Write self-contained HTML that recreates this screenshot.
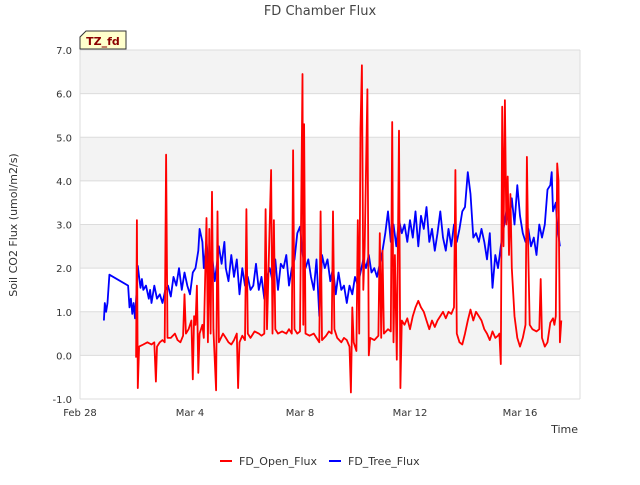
<!DOCTYPE html>
<html><head><meta charset="utf-8"><style>
body{margin:0;background:#fff;font-family:"Liberation Sans","DejaVu Sans",sans-serif}
svg text{font-family:"DejaVu Sans","Liberation Sans",sans-serif}
</style></head><body>
<svg width="640" height="480" viewBox="0 0 640 480" xmlns="http://www.w3.org/2000/svg">
<text x="320" y="15" text-anchor="middle" font-size="13" fill="#444">FD Chamber Flux</text>
<g id="bands"></g>
<g id="grid"></g>
<g id="yticks"></g>
<g id="xticks"></g>
<g id="series"></g>
<text x="17" y="225" text-anchor="middle" font-size="11" fill="#333" transform="rotate(-90 17 225)">Soil CO2 Flux (umol/m2/s)</text>
<text x="578" y="433" text-anchor="end" font-size="11" fill="#333">Time</text>
<g>
<path d="M86,31 L126,31 L126,49 L80,49 L80,37 Z" fill="#ffffcc" stroke="#333" stroke-width="1"/>
<text x="103" y="45" text-anchor="middle" font-size="11" font-weight="bold" fill="#8b0000">TZ_fd</text>
</g>
<g>
<line x1="220" y1="461" x2="232" y2="461" stroke="#ff0000" stroke-width="2"/>
<text x="239" y="465" font-size="11" fill="#333">FD_Open_Flux</text>
</g>
<g>
<line x1="329" y1="461" x2="341" y2="461" stroke="#0000ff" stroke-width="2"/>
<text x="348" y="465" font-size="11" fill="#333">FD_Tree_Flux</text>
</g>
</svg>
<script>
const yTicks=[-1,0,1,2,3,4,5,6,7];
const xTickDays=[0,4,8,12,16];
const xTickLabels=["Feb 28","Mar 4","Mar 8","Mar 12","Mar 16"];
const treeT=[0.87,0.9,0.95,1.0,1.07,1.75,1.8,1.85,1.9,1.95,2.0,2.05,2.1,2.15,2.2,2.25,2.3,2.4,2.5,2.55,2.6,2.7,2.8,2.9,3.0,3.1,3.2,3.3,3.4,3.5,3.6,3.7,3.8,3.9,4.0,4.1,4.2,4.3,4.35,4.45,4.5,4.6,4.7,4.8,4.9,5.0,5.05,5.15,5.25,5.3,5.4,5.5,5.6,5.7,5.8,5.9,6.0,6.1,6.2,6.3,6.4,6.5,6.6,6.7,6.8,6.9,7.0,7.1,7.2,7.3,7.4,7.5,7.6,7.7,7.8,7.9,8.0,8.1,8.2,8.3,8.4,8.5,8.6,8.7,8.8,8.9,9.0,9.1,9.2,9.3,9.4,9.5,9.6,9.7,9.8,9.9,10.0,10.1,10.2,10.3,10.4,10.5,10.6,10.7,10.8,10.9,11.0,11.1,11.2,11.3,11.4,11.5,11.6,11.7,11.8,11.9,12.0,12.1,12.2,12.3,12.4,12.5,12.6,12.7,12.8,12.9,13.0,13.1,13.2,13.3,13.4,13.5,13.6,13.7,13.8,13.9,14.0,14.1,14.2,14.3,14.4,14.5,14.6,14.7,14.8,14.9,15.0,15.1,15.2,15.3,15.4,15.5,15.6,15.7,15.8,15.9,16.0,16.1,16.2,16.3,16.4,16.5,16.6,16.7,16.8,16.9,17.0,17.1,17.15,17.2,17.3,17.35,17.45];
const treeV=[0.8,1.2,1.0,1.2,1.85,1.6,1.1,1.3,0.95,1.2,0.85,1.4,2.05,1.8,1.55,1.75,1.5,1.6,1.3,1.5,1.2,1.6,1.3,1.4,1.2,1.5,1.6,1.35,1.8,1.6,2.0,1.5,1.9,1.6,1.4,1.9,2.0,2.4,2.9,2.6,2.0,2.6,1.9,2.3,1.7,2.2,2.5,2.1,2.6,2.0,1.7,2.3,1.8,2.2,1.4,2.0,1.6,1.8,1.5,1.6,2.1,1.5,1.8,1.3,1.8,2.0,1.7,2.2,1.5,2.1,2.0,2.3,1.6,2.0,2.2,2.8,2.95,2.3,2.0,2.2,1.8,1.5,2.2,0.9,2.3,2.0,2.2,1.7,2.0,1.4,1.9,1.5,1.6,1.2,1.6,1.4,1.8,1.6,1.9,2.2,2.0,2.3,1.9,2.0,1.8,2.1,2.4,2.8,3.3,2.6,3.0,2.5,3.1,2.8,3.0,2.6,3.1,2.7,3.3,2.5,3.2,2.9,3.4,2.6,2.9,2.4,2.8,3.3,2.7,2.4,2.9,2.5,3.0,2.6,2.9,3.3,3.4,4.2,3.7,2.7,2.8,2.6,2.9,2.6,2.2,2.8,1.55,2.3,2.0,2.5,2.9,3.3,3.0,3.6,3.0,3.9,3.2,2.8,2.6,2.9,2.5,2.7,2.3,3.0,2.7,3.0,3.8,3.9,4.2,3.3,3.5,3.0,2.5];
const openT=[2.04,2.07,2.1,2.15,2.3,2.45,2.6,2.7,2.76,2.8,2.9,3.0,3.08,3.13,3.18,3.3,3.45,3.55,3.65,3.75,3.8,3.85,3.95,4.05,4.1,4.15,4.2,4.25,4.3,4.35,4.45,4.5,4.6,4.65,4.7,4.75,4.8,4.85,4.95,5.0,5.05,5.2,5.3,5.4,5.5,5.6,5.7,5.75,5.8,5.9,6.0,6.05,6.1,6.2,6.35,6.5,6.6,6.7,6.75,6.8,6.95,7.0,7.05,7.1,7.2,7.35,7.5,7.6,7.7,7.75,7.8,7.9,8.0,8.09,8.12,8.15,8.2,8.35,8.5,8.6,8.7,8.75,8.8,8.95,9.05,9.15,9.2,9.25,9.35,9.5,9.6,9.7,9.8,9.85,9.9,9.95,10.05,10.1,10.15,10.2,10.25,10.3,10.35,10.45,10.5,10.55,10.7,10.85,10.9,10.95,11.0,11.05,11.2,11.3,11.35,11.4,11.45,11.52,11.6,11.65,11.7,11.8,11.9,12.0,12.1,12.2,12.3,12.4,12.5,12.6,12.7,12.8,12.9,13.0,13.1,13.2,13.3,13.4,13.5,13.6,13.65,13.7,13.8,13.9,14.0,14.1,14.2,14.3,14.4,14.5,14.6,14.7,14.8,14.9,15.0,15.1,15.2,15.25,15.3,15.35,15.4,15.45,15.5,15.55,15.6,15.65,15.7,15.8,15.9,16.0,16.1,16.2,16.25,16.3,16.35,16.45,16.6,16.7,16.75,16.8,16.9,17.0,17.1,17.2,17.25,17.3,17.35,17.4,17.45,17.5];
const openV=[-0.05,3.1,-0.75,0.2,0.25,0.3,0.25,0.3,-0.6,0.2,0.3,0.35,0.3,4.6,0.4,0.4,0.5,0.35,0.3,0.45,1.4,0.5,0.6,0.8,-0.55,0.9,0.7,1.6,-0.4,0.5,0.7,0.4,3.15,0.3,2.9,0.5,3.75,0.6,-0.8,3.3,0.3,0.5,0.4,0.3,0.25,0.35,0.5,-0.75,0.3,0.45,0.35,3.35,0.5,0.4,0.55,0.5,0.45,0.5,3.35,0.6,4.25,0.5,3.1,0.6,0.5,0.55,0.5,0.6,0.5,4.7,0.6,0.5,0.55,6.45,0.7,5.3,0.5,0.45,0.5,0.4,0.3,3.3,0.35,0.45,0.55,0.5,3.3,0.6,0.4,0.3,0.4,0.35,0.2,-0.85,1.1,0.3,0.1,3.1,0.5,5.2,6.65,1.5,2.5,6.1,0.0,0.4,0.35,0.45,2.8,0.4,2.4,0.5,0.6,0.55,5.35,0.3,2.3,-0.1,5.15,-0.75,0.8,0.7,0.85,0.6,0.9,1.1,1.25,1.1,1.0,0.8,0.6,0.8,0.65,0.8,0.9,1.0,0.85,1.0,0.95,1.1,4.25,0.5,0.3,0.25,0.5,0.8,1.05,0.8,1.0,0.9,0.8,0.6,0.5,0.35,0.55,0.4,0.45,0.5,-0.2,5.7,2.5,5.85,3.0,4.1,2.3,3.7,2.0,0.9,0.4,0.2,0.4,0.7,4.55,2.3,0.7,0.6,0.55,0.6,1.75,0.4,0.2,0.3,0.75,0.85,0.7,0.9,4.4,4.0,0.3,0.8];

const NS="http://www.w3.org/2000/svg";
const L=80,R=580,T=50,B=399,YMIN=-1,YMAX=7,DMAX=18.18;
const sx=d=>L+(R-L)*d/DMAX;
const sy=v=>B-(B-T)*(v-YMIN)/(YMAX-YMIN);
function mk(tag,attrs,parent){const e=document.createElementNS(NS,tag);for(const k in attrs)e.setAttribute(k,attrs[k]);parent.appendChild(e);return e;}
const bands=document.getElementById('bands'),grid=document.getElementById('grid'),yt=document.getElementById('yticks'),xt=document.getElementById('xticks'),ser=document.getElementById('series');
mk('rect',{x:L,y:T,width:R-L,height:B-T,fill:'#fff'},bands);
for(let v=0;v<7;v+=2){
 const r=mk('rect',{x:L,y:sy(v+1),width:R-L,height:sy(v)-sy(v+1),fill:'#f3f3f3'},bands);
 
 
}
yTicks.forEach(v=>{
 const g=mk('line',{x1:L,x2:R,y1:sy(v),y2:sy(v),stroke:'#dcdcdc','stroke-width':1},grid);
 
 
 const t=mk('text',{x:L-8,y:sy(v)+4,'text-anchor':'end','font-size':10,fill:'#333'},yt);
 t.textContent=v.toFixed(1);
 
 
});
mk('line',{x1:R,x2:R,y1:T,y2:B,stroke:'#dcdcdc'},grid);
mk('line',{x1:L,x2:L,y1:T,y2:B,stroke:'#dcdcdc'},grid);
xTickDays.forEach((d,i)=>{
 const t=mk('text',{x:sx(d),y:B+17,'text-anchor':'middle','font-size':10,fill:'#333'},xt);
 t.textContent=xTickLabels[i];
 
 
});
function line(ts,vs,color,name){
 const d=ts.map((t,i)=>(i?'L':'M')+sx(t).toFixed(1)+','+sy(vs[i]).toFixed(1)).join('');
 const p=mk('path',{d:d,fill:'none',stroke:color,'stroke-width':1.8,'stroke-linejoin':'round'},ser);
 
 
}
line(treeT,treeV,'#0000ff','fd-tree-flux-line');
line(openT,openV,'#ff0000','fd-open-flux-line');
</script>
</body></html>
